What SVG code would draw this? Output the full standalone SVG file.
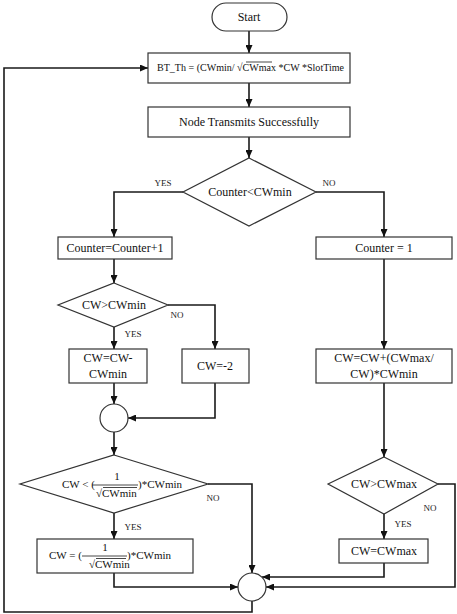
<svg xmlns="http://www.w3.org/2000/svg" width="457" height="614" viewBox="0 0 457 614" font-family="'Liberation Serif', 'DejaVu Serif', serif">
<defs>
<marker id="ah" markerWidth="8" markerHeight="7" refX="8" refY="3.5" orient="auto" markerUnits="userSpaceOnUse">
<path d="M0,0 L8,3.5 L0,7 z" fill="#111"/>
</marker>
<style>
text{font-family:'Liberation Serif','DejaVu Serif',serif}
.box{fill:#fff;stroke:#333;stroke-width:1.2}
.t{font-size:12px;fill:#111;text-anchor:middle}
.s{font-size:9px;fill:#222;text-anchor:middle}
.f{font-size:11px;fill:#111}
.c{fill:none;stroke:#1a1a1a;stroke-width:1.6}
.bar{stroke:#333;stroke-width:0.9}
</style>
</defs>
<rect width="457" height="614" fill="#fff"/>
<g id="connectors">
<path class="c" d="M249,31 V53" marker-end="url(#ah)"/>
<path class="c" d="M249,83 V107" marker-end="url(#ah)"/>
<path class="c" d="M249,137 V158" marker-end="url(#ah)"/>
<path class="c" d="M183,192 H114 V237" marker-end="url(#ah)"/>
<path class="c" d="M316,192 H384 V237" marker-end="url(#ah)"/>
<path class="c" d="M114,259 V283" marker-end="url(#ah)"/>
<path class="c" d="M168,305 H215 V349" marker-end="url(#ah)"/>
<path class="c" d="M114,327 V349" marker-end="url(#ah)"/>
<path class="c" d="M114,383 V404" marker-end="url(#ah)"/>
<path class="c" d="M215,383 V418 H128" marker-end="url(#ah)"/>
<path class="c" d="M114,432 V455" marker-end="url(#ah)"/>
<path class="c" d="M208,484 H252 V573" marker-end="url(#ah)"/>
<path class="c" d="M114,513 V539" marker-end="url(#ah)"/>
<path class="c" d="M114,573 V587 H238" marker-end="url(#ah)"/>
<path class="c" d="M384,259 V349" marker-end="url(#ah)"/>
<path class="c" d="M384,383 V457" marker-end="url(#ah)"/>
<path class="c" d="M438,484 H455 V587 H266" marker-end="url(#ah)"/>
<path class="c" d="M384,514 V539" marker-end="url(#ah)"/>
<path class="c" d="M384,563 V577 H262" marker-end="url(#ah)"/>
<path class="c" d="M252,601 V612 H4 V68 H148" marker-end="url(#ah)"/>
<text class="s" x="163" y="186">YES</text>
<text class="s" x="329" y="186">NO</text>
<text class="s" x="177" y="318">NO</text>
<text class="s" x="133" y="337">YES</text>
<text class="s" x="213" y="501">NO</text>
<text class="s" x="133" y="530">YES</text>
<text class="s" x="430" y="511">NO</text>
<text class="s" x="403" y="527">YES</text>
</g>
<g id="start">
<rect class="box" x="212" y="3" width="75" height="28" rx="14"/>
<text class="t" x="249" y="21">Start</text>
</g>
<g id="btth">
<rect class="box" x="148" y="53" width="202" height="30"/>
<text class="f" x="157" y="71" font-size="9" textLength="187" lengthAdjust="spacingAndGlyphs">BT_Th = (CWmin/ √CWmax *CW *SlotTime</text>
<line class="bar" x1="246" y1="62" x2="272" y2="62"/>
</g>
<g id="transmit">
<rect class="box" x="148" y="107" width="202" height="30"/>
<text class="t" x="249" y="126">Node Transmits Successfully</text>
</g>
<g id="dec1">
<polygon class="box" points="249,158 316,192 249,226 183,192"/>
<text class="t" x="250" y="196">Counter&lt;CWmin</text>
</g>
<g id="inc">
<rect class="box" x="58" y="237" width="114" height="22"/>
<text class="t" x="115" y="252">Counter=Counter+1</text>
</g>
<g id="reset">
<rect class="box" x="316" y="237" width="136" height="22"/>
<text class="t" x="384" y="252">Counter = 1</text>
</g>
<g id="dec2">
<polygon class="box" points="114,283 168,305 114,327 58,305"/>
<text class="t" x="114" y="309">CW&gt;CWmin</text>
</g>
<g id="sub">
<rect class="box" x="69" y="349" width="78" height="34"/>
<text class="t" x="108" y="362">CW=CW-</text>
<text class="t" x="108" y="378">CWmin</text>
</g>
<g id="neg">
<rect class="box" x="182" y="349" width="67" height="34"/>
<text class="t" x="215" y="370">CW=-2</text>
</g>
<g id="add">
<rect class="box" x="316" y="349" width="136" height="34"/>
<text class="t" x="384" y="362">CW=CW+(CWmax/</text>
<text class="t" x="384" y="378">CW)*CWmin</text>
</g>
<g id="join1">
<circle class="box" cx="114" cy="418" r="14"/>
</g>
<g id="dec3">
<polygon class="box" points="114,455 208,484 114,513 20,484"/>
<text class="f" x="62" y="488">CW &lt; (</text>
<text class="f" x="117" y="480" text-anchor="middle">1</text>
<line class="bar" x1="92" y1="485" x2="138" y2="485"/>
<text class="f" x="96" y="497">√CWmin</text>
<line class="bar" x1="103" y1="487.5" x2="137" y2="487.5"/>
<text class="f" x="138" y="488">)*CWmin</text>
</g>
<g id="dec4">
<polygon class="box" points="384,457 438,484 384,514 328,484"/>
<text class="t" x="384" y="488">CW&gt;CWmax</text>
</g>
<g id="setmin">
<rect class="box" x="37" y="539" width="156" height="34"/>
<text class="f" x="49" y="559">CW = (</text>
<text class="f" x="105" y="551" text-anchor="middle">1</text>
<line class="bar" x1="82" y1="556" x2="127" y2="556"/>
<text class="f" x="89" y="568">√CWmin</text>
<line class="bar" x1="96" y1="558.5" x2="126" y2="558.5"/>
<text class="f" x="127" y="559">)*CWmin</text>
</g>
<g id="setmax">
<rect class="box" x="339" y="539" width="89" height="24"/>
<text class="t" x="384" y="555">CW=CWmax</text>
</g>
<g id="join2">
<circle class="box" cx="252" cy="587" r="14"/>
</g>
</svg>
